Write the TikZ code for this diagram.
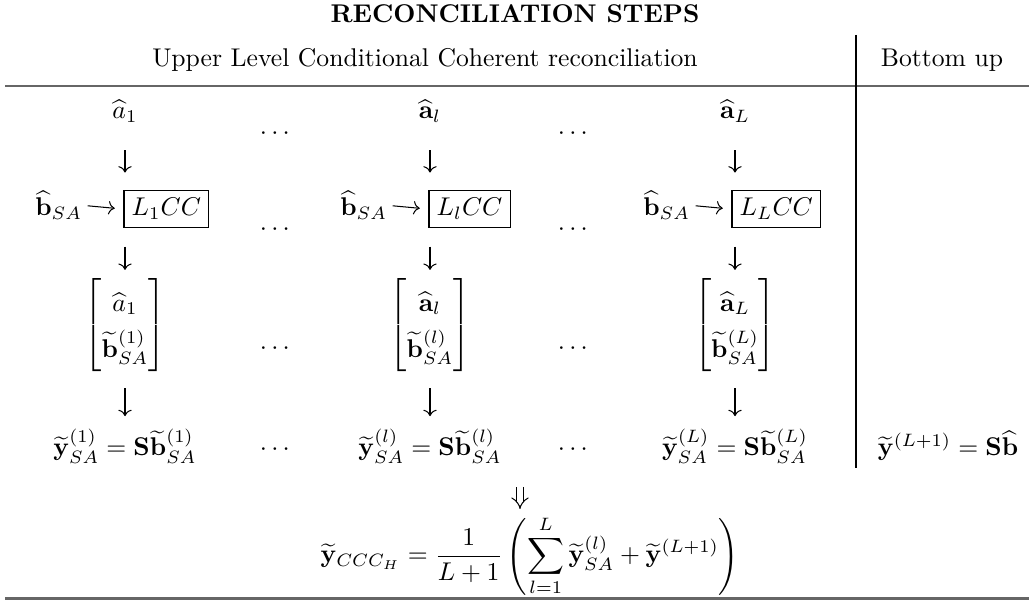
\documentclass[tikz,border=0pt]{standalone}
\usepackage{amsmath}
\usetikzlibrary{arrows.meta}
\begin{document}
\begin{tikzpicture}[x=0.39pt,y=-0.39pt,
  txt/.style={inner sep=0pt, outer sep=0pt, anchor=base},
  bsa/.style={inner sep=0pt, outer sep=0pt, anchor=base east},
  vec/.style={inner sep=0pt, outer sep=0pt, execute at begin node={\renewcommand{\arraystretch}{1.5}}},
  ccbox/.style={draw, line width=0.4pt, inner sep=3pt, outer sep=0pt, anchor=base west},
  varr/.style={-{Computer Modern Rightarrow}, line width=0.4pt},
  harr/.style={-{Computer Modern Rightarrow}, line width=0.4pt, shorten <=2.2pt, shorten >=3.6pt},
  dbl/.style={double, double distance=2pt, line width=0.4pt, -{Implies}},
  rulestyle/.style={line width=0.8pt, draw=black!60},
  vrule/.style={line width=0.5pt, draw=black}]
\useasboundingbox (0,0) rectangle (1029,601);

% title and header
\node[txt] (title) at (515,23) {\textbf{RECONCILIATION STEPS}};
\node[txt] (hdrA) at (425,67) {Upper Level Conditional Coherent reconciliation};
\node[txt] (hdrB) at (942,67) {Bottom up};
\draw[rulestyle] (5,86) -- (1029,86);
\draw[vrule] (856,35) -- (856,468);

% row 1
\node[txt] (a1) at (125,119) {$\widehat{a}_1$};
\node[txt] (al) at (430,119) {$\widehat{\mathbf{a}}_l$};
\node[txt] (aL) at (735,119) {$\widehat{\mathbf{a}}_L$};
\node[txt] (d11) at (277,140) {$\cdots$};
\node[txt] (d12) at (575,140) {$\cdots$};

% row 2
\node[bsa] (b1) at (82,216) {$\widehat{\mathbf{b}}_{SA}$};
\node[ccbox] (k1) at (124,216) {$L_1CC$};
\node[bsa] (bl) at (387,216) {$\widehat{\mathbf{b}}_{SA}$};
\node[ccbox] (kl) at (429,216) {$L_lCC$};
\node[bsa] (bL) at (690,216) {$\widehat{\mathbf{b}}_{SA}$};
\node[ccbox] (kL) at (732,216) {$L_LCC$};
\node[txt] (d21) at (277,236) {$\cdots$};
\node[txt] (d22) at (575,236) {$\cdots$};
\draw[harr] (b1.east) -- (k1.west);
\draw[harr] (bl.east) -- (kl.west);
\draw[harr] (bL.east) -- (kL.west);

% row 3 (vectors)
\node[vec] (m1) at (125,325) {$\begin{bmatrix}\widehat{a}_1\\ \widetilde{\mathbf{b}}^{(1)}_{SA}\end{bmatrix}$};
\node[vec] (ml) at (430,325) {$\begin{bmatrix}\widehat{\mathbf{a}}_l\\ \widetilde{\mathbf{b}}^{(l)}_{SA}\end{bmatrix}$};
\node[vec] (mL) at (735,325) {$\begin{bmatrix}\widehat{\mathbf{a}}_L\\ \widetilde{\mathbf{b}}^{(L)}_{SA}\end{bmatrix}$};
\node[txt] (d31) at (277,355) {$\cdots$};
\node[txt] (d32) at (575,355) {$\cdots$};

% row 4 (results)
\node[txt] (y1) at (125,456) {$\widetilde{\mathbf{y}}^{(1)}_{SA}=\mathbf{S}\widetilde{\mathbf{b}}^{(1)}_{SA}$};
\node[txt] (yl) at (430,456) {$\widetilde{\mathbf{y}}^{(l)}_{SA}=\mathbf{S}\widetilde{\mathbf{b}}^{(l)}_{SA}$};
\node[txt] (yL) at (735,456) {$\widetilde{\mathbf{y}}^{(L)}_{SA}=\mathbf{S}\widetilde{\mathbf{b}}^{(L)}_{SA}$};
\node[txt] (d41) at (277,456) {$\cdots$};
\node[txt] (d42) at (575,456) {$\cdots$};
\node[txt] (ybu) at (948,456) {$\widetilde{\mathbf{y}}^{(L+1)}=\mathbf{S}\widehat{\mathbf{b}}$};

% vertical arrows
\foreach \a/\k/\m/\y in {a1/k1/m1/y1, al/kl/ml/yl, aL/kL/mL/yL}{
  \draw[varr, shorten <=10.6pt, shorten >=7.1pt] (\a.south) -- (\a.south |- \k.north);
  \draw[varr, shorten <=7.4pt, shorten >=3.5pt] (\a.south |- \k.south) -- (\a.south |- \m.north);
  \draw[varr, shorten <=6.6pt, shorten >=5.1pt] (\m.south) -- (\m.south |- \y.north);
}

% final combination
\node[txt] (ccc) at (530,563) {$\displaystyle \widetilde{\mathbf{y}}_{CCC_H}=\frac{1}{L+1}\left(\sum_{l=1}^{L}\widetilde{\mathbf{y}}^{(l)}_{SA}+\widetilde{\mathbf{y}}^{(L+1)}\right)$};
\coordinate (dtop) at (520,487);
\coordinate (dbot) at (520,509);
\draw[dbl] (dtop) -- (dbot);
\draw[rulestyle] (5,598.5) -- (1029,598.5);
\end{tikzpicture}
\end{document}
